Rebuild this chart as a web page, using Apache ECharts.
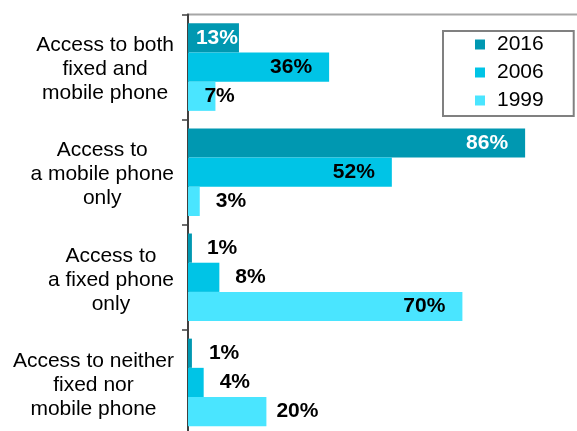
<!DOCTYPE html>
<html>
<head>
<meta charset="utf-8">
<script src="https://cdn.jsdelivr.net/npm/echarts@6/dist/echarts.min.js"></script>
<style>html,body{margin:0;padding:0;background:#fff;}#c{width:577px;height:431px;}</style>
</head>
<body>
<div id="c"></div>
<script>
const categories = [
  "Access to both\nfixed and\nmobile phone",
  "Access to\na mobile phone\nonly",
  "Access to\na fixed phone\nonly",
  "Access to neither\nfixed nor\nmobile phone"
];
const seriesNames = ["2016", "2006", "1999"];
const values2016 = [13, 86, 1, 1];
const values2006 = [36, 52, 8, 4];
const values1999 = [7, 3, 70, 20];

// label placement (styling, separate from data): [position, distance]
const labelPlace = {
  "2016": [["insideRight", 1], ["insideRight", 17], ["right", 15], ["right", 17]],
  "2006": [["insideRight", 17], ["insideRight", 17], ["right", 16], ["right", 16]],
  "1999": [["right", -11], ["right", 16], ["insideRight", 17], ["right", 10]]
};
const colors = { "2016": "#0098B1", "2006": "#00C4E6", "1999": "#4AE5FF" };
const labelColors = { "2016": "#ffffff", "2006": "#000000", "1999": "#000000" };
const FONT = "Liberation Sans, Arial, sans-serif";

function buildSeries(name, vals) {
  return {
    name: name,
    type: "bar",
    barWidth: 29.2,
    barGap: "0%",
    itemStyle: { color: colors[name] },
    data: vals.map((v, i) => {
      const p = labelPlace[name][i];
      const inside = p[0] === "insideRight";
      return {
        value: v,
        label: {
          show: true,
          position: p[0],
          distance: p[1],
          formatter: "{c}%",
          color: inside ? labelColors[name] : "#000000",
          fontSize: 21,
          fontWeight: "bold",
          fontFamily: FONT
        }
      };
    })
  };
}

const chart = echarts.init(document.getElementById("c"), null, { renderer: "canvas" });
chart.setOption({
  animation: false,
  backgroundColor: "#ffffff",
  grid: {
    left: 188, top: 14.5, width: 392, height: 420.5,
    outerBoundsMode: "none",
    containLabel: false,
    show: true, borderColor: "#a6a6a6", borderWidth: 2, backgroundColor: "transparent"
  },
  legend: {
    data: seriesNames,
    orient: "vertical",
    left: 443, top: 31,
    icon: "rect",
    itemWidth: 10, itemHeight: 10, itemGap: 7,
    padding: [3, 30, 5, 32],
    borderColor: "#808080", borderWidth: 2,
    textStyle: { fontSize: 21, fontFamily: FONT, color: "#000", lineHeight: 21, padding: [0, 0, 0, 7] }
  },
  xAxis: { type: "value", min: 0, max: 100, show: false },
  yAxis: {
    type: "category",
    inverse: true,
    data: categories,
    axisLine: { show: true, lineStyle: { color: "#404040", width: 2 } },
    axisTick: { show: true, length: 6, lineStyle: { color: "#404040", width: 1.5 } },
    axisLabel: {
      margin: 14,
      align: "right",
      padding: [5, 0, 0, 0],
      formatter: v => v.split("\n").map(l => "{c|" + l + "}").join("\n"),
      rich: { c: { align: "center", fontSize: 21, lineHeight: 24, fontFamily: FONT, color: "#000" } }
    }
  },
  series: [
    buildSeries("2016", values2016),
    buildSeries("2006", values2006),
    buildSeries("1999", values1999)
  ]
});
</script>
</body>
</html>
